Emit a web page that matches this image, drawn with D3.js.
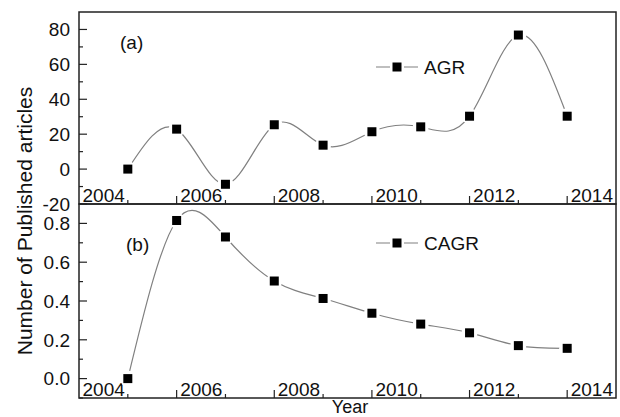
<!DOCTYPE html>
<html><head><meta charset="utf-8">
<script src="https://cdn.jsdelivr.net/npm/d3@7"></script>
<style>body{margin:0;background:#fff}text{font-family:"Liberation Sans",Arial,sans-serif;fill:#111}</style>
</head><body>
<svg id="c" width="620" height="417"></svg>
<script>
const years = [2004,2005,2006,2007,2008,2009,2010,2011,2012,2013];
const agr = [0,22.9,-8.7,25.4,13.7,21.4,24.2,30.3,76.8,30.3];
const cagr = [0,0.815,0.73,0.503,0.413,0.337,0.281,0.236,0.17,0.156];
const xLabels = [2004,2006,2008,2010,2012,2014];
const agrTicks = [-20,0,20,40,60,80];
const agrMinor = [-10,10,30,50,70];
const cagrTicks = [0.0,0.2,0.4,0.6,0.8];
const cagrMinor = [-0.1,0.1,0.3,0.5,0.7];

const svg = d3.select("#c");
const L = 79, R = 616;
const FS = "19px";
const x = d3.scaleLinear().domain([2003,2014]).range([L,R]);
const xMajor = [2005,2007,2009,2011,2013];
const xMinor = [2004,2006,2008,2010,2012];

function panel(opts){
  const y = d3.scaleLinear().domain(opts.domain).range([opts.bottom, opts.top]);
  const g = svg.append("g");
  g.append("rect").attr("x",L).attr("y",opts.top).attr("width",R-L).attr("height",opts.bottom-opts.top)
    .attr("fill","none").attr("stroke","#222").attr("stroke-width",1.5);
  g.selectAll(".ym").data(opts.ticks).join("line")
    .attr("x1",L).attr("x2",L+8).attr("y1",d=>y(d)).attr("y2",d=>y(d)).attr("stroke","#222").attr("stroke-width",1.2);
  g.selectAll(".yn").data(opts.minor).join("line")
    .attr("x1",L).attr("x2",L+4).attr("y1",d=>y(d)).attr("y2",d=>y(d)).attr("stroke","#222").attr("stroke-width",1.2);
  g.selectAll(".yl").data(opts.ticks).join("text")
    .attr("x",L-9).attr("y",d=>y(d)).attr("dy","0.36em").attr("text-anchor","end")
    .style("font-size",FS).text(d=>opts.fmt(d));
  g.selectAll(".xm").data(xMajor).join("line")
    .attr("x1",d=>x(d)).attr("x2",d=>x(d)).attr("y1",opts.bottom).attr("y2",opts.bottom-8).attr("stroke","#222").attr("stroke-width",1.2);
  g.selectAll(".xn").data(xMinor).join("line")
    .attr("x1",d=>x(d)).attr("x2",d=>x(d)).attr("y1",opts.bottom).attr("y2",opts.bottom-4).attr("stroke","#222").attr("stroke-width",1.2);
  g.selectAll(".xl").data(xLabels).join("text")
    .attr("x",d=>x(d)-3).attr("y",opts.bottom-2).attr("text-anchor","end")
    .style("font-size",FS).text(d=>d);
  const line = d3.line().x((d,i)=>x(years[i])).y(d=>y(d)).curve(d3.curveNatural);
  g.append("path").attr("d",line(opts.values)).attr("fill","none").attr("stroke","#808080").attr("stroke-width",1.2);
  g.selectAll(".gap").data(opts.values).join("circle")
    .attr("cx",(d,i)=>x(years[i])).attr("cy",d=>y(d)).attr("r",8).attr("fill","#fff");
  g.selectAll(".mk").data(opts.values).join("rect")
    .attr("x",(d,i)=>x(years[i])-4.5).attr("y",d=>y(d)-4.5).attr("width",9).attr("height",9).attr("fill","#000");
  g.append("text").attr("x",opts.lab[0]).attr("y",opts.lab[1]).style("font-size",FS).text(opts.label);
  const ly = opts.leg[1];
  g.append("line").attr("x1",376).attr("x2",418).attr("y1",ly).attr("y2",ly).attr("stroke","#808080").attr("stroke-width",1.2);
  g.append("rect").attr("x",397-7).attr("y",ly-7).attr("width",14).attr("height",14).attr("fill","#fff");
  g.append("rect").attr("x",397-4.5).attr("y",ly-4.5).attr("width",9).attr("height",9).attr("fill","#000");
  g.append("text").attr("x",424).attr("y",ly+7).style("font-size",FS).text(opts.name);
}

panel({domain:[-20,90], top:12, bottom:204, ticks:agrTicks, minor:agrMinor, fmt:d=>d, values:agr,
  label:"(a)", lab:[120,49], leg:[0,67], name:"AGR"});
panel({domain:[-0.1,0.9], top:204, bottom:398, ticks:cagrTicks, minor:cagrMinor, fmt:d3.format(".1f"), values:cagr,
  label:"(b)", lab:[126,251], leg:[0,243], name:"CAGR"});

svg.append("text").attr("transform","translate(32,221) rotate(-90)").attr("text-anchor","middle")
  .style("font-size","21px").text("Number of Published articles");
svg.append("text").attr("x",350).attr("y",413).attr("text-anchor","middle").style("font-size","18px").text("Year");
</script>
</body></html>
